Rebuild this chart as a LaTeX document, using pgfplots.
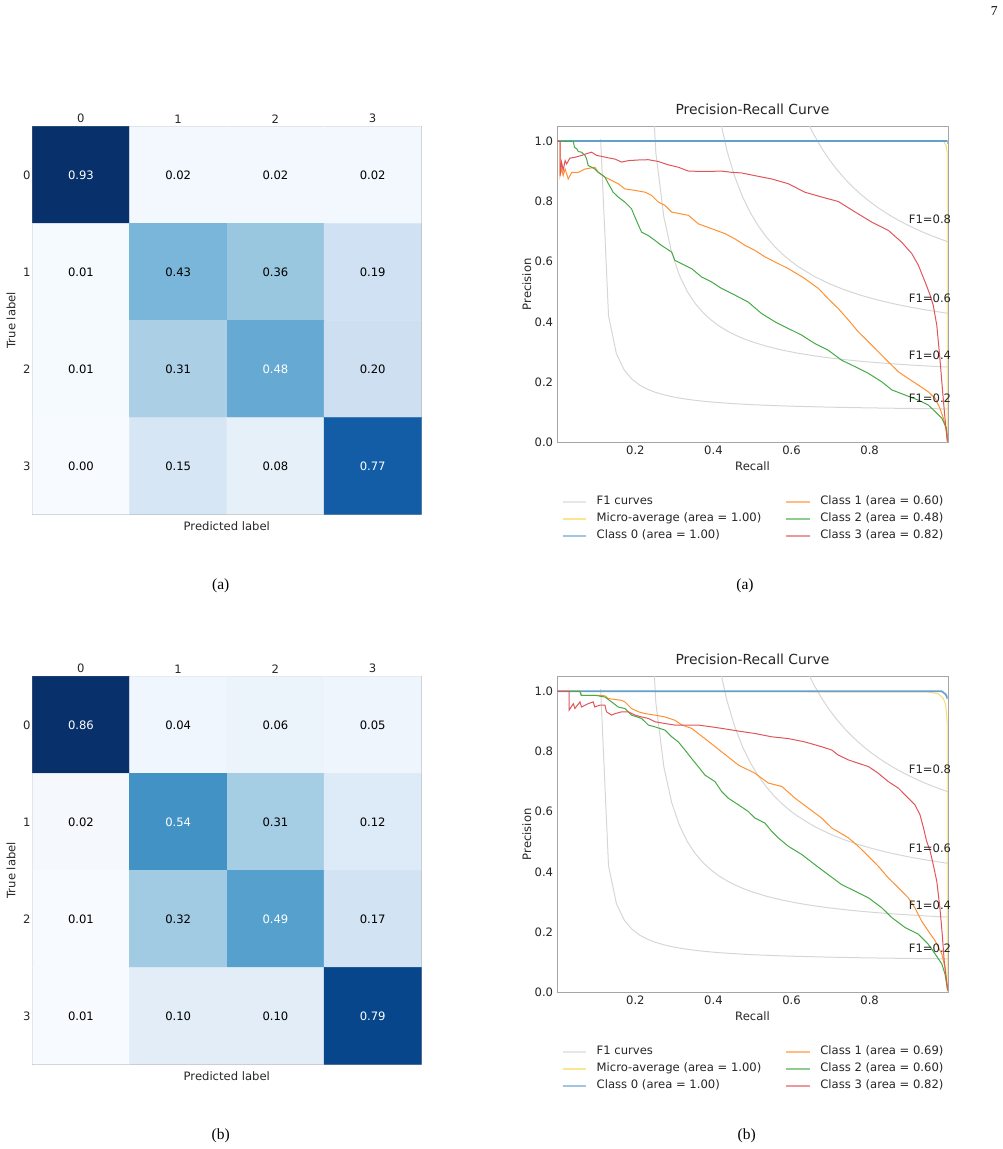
\documentclass[border=0pt]{standalone}
\usepackage{fontspec}
\setmainfont{DejaVu Sans}
\newfontfamily\capfont{Liberation Serif}
\usepackage{pgfplots}
\usepackage{pgfplotstable}
\pgfplotsset{compat=1.18}
\pgfplotsset{/pgf/number format/assume math mode=true}

\definecolor{f1gray}{RGB}{214,214,214}
\definecolor{cyellow}{RGB}{248,212,70}
\definecolor{cblue}{RGB}{100,160,205}
\definecolor{corange}{RGB}{255,145,50}
\definecolor{cgreen}{RGB}{70,170,70}
\definecolor{cred}{RGB}{225,85,90}
\definecolor{txt}{RGB}{38,38,38}

\newcommand\fsz{\fontsize{11.6}{14}\selectfont}
\newcommand\tsz{\fontsize{13.9}{16}\selectfont}

\tikzset{f1lbl/.style={anchor=base west, font=\fsz, text=txt, inner sep=0pt}}

\pgfplotsset{
  cmstyle/.style={
    scale only axis, width=389pt, height=388pt,
    xmin=-0.5, xmax=3.5, ymin=-0.5, ymax=3.5, enlargelimits=false,
    xtick={0,1,2,3}, ytick={0,1,2,3}, yticklabels={3,2,1,0},
    xticklabel pos=upper, major tick length=0pt,
    axis line style={black!35},
    tick label style={font=\fsz, text=txt},
    xticklabel style={inner ysep=3pt},
    yticklabel style={inner xsep=1.5pt},
    xlabel={Predicted label}, ylabel={True label},
    label style={font=\fsz, text=txt},
    xlabel style={at={(axis description cs:0.5,-0.0294)}, anchor=center},
    ylabel style={at={(axis description cs:-0.0548,0.5)}, anchor=center},
    colormap={blues}{rgb255=(247,251,255) rgb255=(222,235,247) rgb255=(198,219,239)
      rgb255=(158,202,225) rgb255=(107,174,214) rgb255=(66,146,198)
      rgb255=(33,113,181) rgb255=(8,81,156) rgb255=(8,48,107)},
  },
  % w = 100 gives white text on the dark cells, 0 gives black
  cmcells/.style={
    matrix plot*, mesh/cols=4, point meta=explicit, mark=none,
    nodes near coords={\pgfmathprintnumber[fixed,fixed zerofill,precision=2]{\pgfplotspointmeta}},
    nodes near coords align=center,
    visualization depends on={\thisrow{w}\as\wv},
    every node near coord/.append style={font=\fsz, text=white!\wv!black},
  },
  prstyle/.style={
    scale only axis, width=390.4pt, height=316pt,
    xmin=0, xmax=1, ymin=0, ymax=1.05, clip mode=individual,
    xtick={0.2,0.4,0.6,0.8}, ytick={0,0.2,0.4,0.6,0.8,1},
    xticklabel={\pgfmathprintnumber[fixed,fixed zerofill,precision=1]{\tick}},
    yticklabel={\pgfmathprintnumber[fixed,fixed zerofill,precision=1]{\tick}},
    major tick length=0pt,
    axis line style={black!35},
    tick label style={font=\fsz, text=txt},
    xticklabel style={inner ysep=3.4pt},
    yticklabel style={inner xsep=4pt},
    title={Precision-Recall Curve},
    title style={at={(axis description cs:0.5,1.0349)}, anchor=center, font=\tsz, text=txt},
    xlabel={Recall}, ylabel={Precision},
    label style={font=\fsz, text=txt},
    xlabel style={at={(axis description cs:0.5,-0.076)}, anchor=center},
    ylabel style={at={(axis description cs:-0.0784,0.5)}, anchor=center},
    legend image code/.code={\draw[#1, line width=1.7pt, draw opacity=0.6] (0pt,0pt) -- (23.3pt,0pt);},
    legend cell align=left,
    legend style={at={(axis description cs:0.0113,-0.162)}, anchor=north west,
      draw=none, fill=none, inner sep=0pt, outer sep=0pt, legend columns=2,
      font=\fsz, /tikz/every even column/.append style={column sep=14pt},
      nodes={inner xsep=10pt, inner ysep=2.5pt, text height=9pt, text depth=3pt, text=txt}},
    every axis plot/.append style={line width=1pt},
  },
}

% confusion matrices: column c, row position r (3 = top row), value v, text colour flag w
\pgfplotstableread{
c r v w
0 3 0.93 100
1 3 0.02 0
2 3 0.02 0
3 3 0.02 0
0 2 0.01 0
1 2 0.43 0
2 2 0.36 0
3 2 0.19 0
0 1 0.01 0
1 1 0.31 0
2 1 0.48 100
3 1 0.20 0
0 0 0.00 0
1 0 0.15 0
2 0 0.08 0
3 0 0.77 100
}\cmA

\pgfplotstableread{
c r v w
0 3 0.86 100
1 3 0.04 0
2 3 0.06 0
3 3 0.05 0
0 2 0.02 0
1 2 0.54 100
2 2 0.31 0
3 2 0.12 0
0 1 0.01 0
1 1 0.32 0
2 1 0.49 100
3 1 0.17 0
0 0 0.01 0
1 0 0.10 0
2 0 0.10 0
3 0 0.79 100
}\cmB

% iso-F1 lines
\pgfplotstableread{
x y
0.1110 1.0074
0.1312 0.4203
0.1514 0.2944
0.1716 0.2396
0.1918 0.2089
0.2120 0.1893
0.2322 0.1756
0.2524 0.1656
0.2727 0.1579
0.2929 0.1519
0.3131 0.1469
0.3333 0.1429
0.3535 0.1395
0.3737 0.1365
0.3939 0.1340
0.4141 0.1318
0.4545 0.1282
0.4949 0.1253
0.5353 0.1230
0.5757 0.1210
0.6161 0.1194
0.6969 0.1168
0.7778 0.1148
0.8586 0.1132
0.9394 0.1119
1.0000 0.1111
}\fonea

\pgfplotstableread{
x y
0.2322 1.4405
0.2524 0.9626
0.2727 0.7506
0.2929 0.6308
0.3131 0.5538
0.3333 0.5002
0.3535 0.4606
0.3737 0.4303
0.3939 0.4063
0.4141 0.3868
0.4343 0.3707
0.4545 0.3572
0.4747 0.3456
0.4949 0.3356
0.5353 0.3193
0.5757 0.3065
0.6161 0.2961
0.6565 0.2876
0.6969 0.2805
0.7373 0.2744
0.7778 0.2692
0.8182 0.2647
0.8586 0.2607
0.8990 0.2572
0.9394 0.2541
1.0000 0.2500
}\foneb

\pgfplotstableread{
x y
0.3737 1.5216
0.3939 1.2587
0.4141 1.0889
0.4343 0.9702
0.4545 0.8826
0.4747 0.8152
0.4949 0.7618
0.5151 0.7184
0.5353 0.6825
0.5555 0.6522
0.5757 0.6264
0.5959 0.6041
0.6161 0.5847
0.6565 0.5524
0.6969 0.5267
0.7373 0.5058
0.7778 0.4884
0.8182 0.4737
0.8586 0.4611
0.8990 0.4503
0.9394 0.4408
1.0000 0.4286
}\fonec

\pgfplotstableread{
x y
0.6161 1.1403
0.6363 1.0770
0.6565 1.0237
0.6767 0.9782
0.6969 0.9388
0.7171 0.9045
0.7373 0.8743
0.7576 0.8475
0.7778 0.8236
0.7980 0.8020
0.8182 0.7826
0.8384 0.7650
0.8586 0.7489
0.8788 0.7342
0.8990 0.7207
0.9192 0.7082
0.9394 0.6966
0.9596 0.6859
0.9798 0.6760
1.0000 0.6667
}\foned

\begin{document}
\begin{tikzpicture}
\path[use as bounding box] (0pt,0pt) rectangle (1003pt,1149pt);

% ---------- (a) confusion matrix ----------
\begin{axis}[cmstyle, at={(32.3pt,634.7pt)}, anchor=south west]
\addplot[cmcells] table[x=c, y=r, meta=v] {\cmA};
\end{axis}

% ---------- (a) precision-recall ----------
\begin{axis}[prstyle, at={(557.3pt,706.7pt)}, anchor=south west]
\addlegendimage{draw=f1gray}\addlegendentry{F1 curves}
\addlegendimage{draw=corange}\addlegendentry{Class 1 (area = 0.60)}
\addlegendimage{draw=cyellow}\addlegendentry{Micro-average (area = 1.00)}
\addlegendimage{draw=cgreen}\addlegendentry{Class 2 (area = 0.48)}
\addlegendimage{draw=cblue}\addlegendentry{Class 0 (area = 1.00)}
\addlegendimage{draw=cred}\addlegendentry{Class 3 (area = 0.82)}
\addplot[f1gray, forget plot] table {\fonea};
\addplot[f1gray, forget plot] table {\foneb};
\addplot[f1gray, forget plot] table {\fonec};
\addplot[f1gray, forget plot] table {\foned};
\addplot[cyellow, forget plot, draw opacity=0.8] coordinates {(0,1) (0.990,1) (0.996,0.985) (0.9992,0.96) (0.9992,0.9) (0.9992,0)};
\addplot[cblue, forget plot, line width=1.7pt] coordinates {(0,1) (1,1) (1,0.99)};
\addplot[corange, forget plot] coordinates {(0,1) (0.007,1) (0.007,0.886) (0.011,0.908) (0.015,0.886) (0.020,0.908) (0.028,0.875) (0.037,0.897) (0.054,0.897) (0.071,0.908) (0.096,0.914) (0.105,0.897) (0.122,0.881) (0.139,0.870) (0.156,0.859) (0.173,0.842) (0.199,0.837) (0.225,0.831) (0.242,0.820) (0.259,0.798) (0.276,0.787) (0.293,0.765) (0.336,0.754) (0.361,0.726) (0.395,0.710) (0.430,0.693) (0.455,0.676) (0.481,0.654) (0.506,0.638) (0.532,0.616) (0.558,0.599) (0.592,0.577) (0.634,0.544) (0.669,0.511) (0.694,0.477) (0.720,0.444) (0.746,0.406) (0.771,0.367) (0.797,0.334) (0.822,0.301) (0.848,0.267) (0.874,0.234) (0.899,0.212) (0.925,0.190) (0.950,0.168) (0.968,0.146) (0.980,0.113) (0.989,0.080) (0.997,0.035) (1.000,0.002)};
\addplot[cgreen, forget plot] coordinates {(0,1) (0.041,1) (0.044,0.980) (0.050,0.975) (0.054,0.966) (0.062,0.964) (0.071,0.953) (0.075,0.942) (0.079,0.920) (0.088,0.914) (0.096,0.908) (0.105,0.897) (0.114,0.889) (0.122,0.881) (0.131,0.859) (0.143,0.831) (0.156,0.815) (0.173,0.798) (0.190,0.776) (0.199,0.748) (0.208,0.721) (0.216,0.698) (0.233,0.687) (0.250,0.671) (0.267,0.654) (0.293,0.632) (0.301,0.605) (0.319,0.593) (0.344,0.577) (0.370,0.549) (0.395,0.533) (0.421,0.511) (0.455,0.489) (0.489,0.466) (0.523,0.428) (0.558,0.400) (0.592,0.378) (0.626,0.356) (0.660,0.328) (0.694,0.306) (0.728,0.273) (0.763,0.251) (0.797,0.229) (0.831,0.201) (0.857,0.174) (0.891,0.157) (0.925,0.140) (0.950,0.124) (0.968,0.102) (0.985,0.080) (0.997,0.046) (1.000,0.002)};
\addplot[cred, forget plot] coordinates {(0,1) (0.007,1) (0.007,0.886) (0.011,0.931) (0.015,0.903) (0.020,0.936) (0.024,0.925) (0.032,0.944) (0.045,0.947) (0.062,0.953) (0.075,0.959) (0.088,0.964) (0.101,0.953) (0.114,0.950) (0.131,0.945) (0.148,0.941) (0.165,0.931) (0.182,0.936) (0.208,0.938) (0.233,0.939) (0.259,0.933) (0.284,0.922) (0.310,0.914) (0.336,0.901) (0.378,0.900) (0.421,0.901) (0.447,0.897) (0.472,0.895) (0.506,0.886) (0.549,0.875) (0.592,0.859) (0.634,0.831) (0.677,0.815) (0.720,0.800) (0.763,0.765) (0.805,0.732) (0.848,0.704) (0.882,0.665) (0.908,0.627) (0.925,0.588) (0.942,0.533) (0.955,0.489) (0.963,0.455) (0.972,0.389) (0.980,0.279) (0.987,0.168) (0.993,0.080) (0.999,0.002)};
\node[f1lbl] at (axis cs:0.9,0.1322) {F1=0.2};
\node[f1lbl] at (axis cs:0.9,0.2756) {F1=0.4};
\node[f1lbl] at (axis cs:0.9,0.4654) {F1=0.6};
\node[f1lbl] at (axis cs:0.9,0.7282) {F1=0.8};
\end{axis}

% ---------- (b) confusion matrix ----------
\begin{axis}[cmstyle, at={(32.3pt,84.7pt)}, anchor=south west]
\addplot[cmcells] table[x=c, y=r, meta=v] {\cmB};
\end{axis}

% ---------- (b) precision-recall ----------
\begin{axis}[prstyle, at={(557.3pt,156.7pt)}, anchor=south west]
\addlegendimage{draw=f1gray}\addlegendentry{F1 curves}
\addlegendimage{draw=corange}\addlegendentry{Class 1 (area = 0.69)}
\addlegendimage{draw=cyellow}\addlegendentry{Micro-average (area = 1.00)}
\addlegendimage{draw=cgreen}\addlegendentry{Class 2 (area = 0.60)}
\addlegendimage{draw=cblue}\addlegendentry{Class 0 (area = 1.00)}
\addlegendimage{draw=cred}\addlegendentry{Class 3 (area = 0.82)}
\addplot[f1gray, forget plot] table {\fonea};
\addplot[f1gray, forget plot] table {\foneb};
\addplot[f1gray, forget plot] table {\fonec};
\addplot[f1gray, forget plot] table {\foned};
\addplot[cyellow, forget plot, draw opacity=0.8] coordinates {(0,1) (0.950,0.998) (0.976,0.992) (0.989,0.976) (0.995,0.954) (0.9992,0.888) (0.9992,0)};
\addplot[cblue, forget plot, line width=1.7pt] coordinates {(0,1) (0.985,1) (0.995,0.99) (1,0.975)};
\addplot[corange, forget plot] coordinates {(0,1) (0.058,1) (0.062,0.987) (0.105,0.987) (0.122,0.985) (0.131,0.976) (0.165,0.970) (0.173,0.965) (0.190,0.943) (0.208,0.932) (0.225,0.926) (0.250,0.921) (0.276,0.915) (0.301,0.904) (0.319,0.888) (0.344,0.877) (0.378,0.843) (0.421,0.799) (0.464,0.755) (0.506,0.728) (0.541,0.695) (0.575,0.684) (0.609,0.645) (0.643,0.612) (0.677,0.579) (0.703,0.546) (0.746,0.513) (0.771,0.485) (0.797,0.452) (0.822,0.419) (0.848,0.380) (0.874,0.347) (0.899,0.314) (0.916,0.281) (0.933,0.237) (0.950,0.204) (0.968,0.171) (0.985,0.127) (0.993,0.083) (0.997,0.039) (1.000,0.006)};
\addplot[cgreen, forget plot] coordinates {(0,1) (0.058,1) (0.061,0.987) (0.096,0.987) (0.105,0.985) (0.122,0.981) (0.139,0.965) (0.156,0.948) (0.173,0.943) (0.190,0.921) (0.216,0.910) (0.233,0.888) (0.250,0.882) (0.276,0.871) (0.293,0.849) (0.310,0.832) (0.327,0.805) (0.344,0.777) (0.361,0.750) (0.378,0.722) (0.404,0.700) (0.421,0.667) (0.438,0.645) (0.464,0.623) (0.489,0.601) (0.506,0.579) (0.532,0.562) (0.549,0.535) (0.566,0.513) (0.592,0.485) (0.626,0.458) (0.660,0.424) (0.694,0.391) (0.728,0.358) (0.763,0.336) (0.797,0.314) (0.831,0.281) (0.857,0.248) (0.891,0.215) (0.925,0.193) (0.950,0.160) (0.968,0.127) (0.985,0.094) (0.993,0.061) (1.000,0.006)};
\addplot[cred, forget plot] coordinates {(0,1) (0.030,1) (0.030,0.937) (0.041,0.959) (0.045,0.943) (0.058,0.965) (0.062,0.948) (0.079,0.959) (0.092,0.965) (0.096,0.948) (0.109,0.954) (0.122,0.954) (0.126,0.932) (0.139,0.921) (0.148,0.926) (0.165,0.932) (0.182,0.932) (0.199,0.921) (0.216,0.915) (0.233,0.910) (0.250,0.899) (0.276,0.893) (0.301,0.888) (0.336,0.888) (0.361,0.888) (0.395,0.882) (0.421,0.877) (0.464,0.868) (0.506,0.860) (0.549,0.849) (0.592,0.843) (0.634,0.832) (0.677,0.816) (0.703,0.805) (0.720,0.788) (0.746,0.772) (0.771,0.761) (0.797,0.750) (0.822,0.728) (0.848,0.700) (0.874,0.678) (0.899,0.645) (0.916,0.623) (0.929,0.590) (0.938,0.546) (0.946,0.502) (0.955,0.469) (0.963,0.424) (0.972,0.369) (0.980,0.281) (0.986,0.193) (0.991,0.105) (0.997,0.039) (1.000,0.006)};
\node[f1lbl] at (axis cs:0.9,0.1322) {F1=0.2};
\node[f1lbl] at (axis cs:0.9,0.2756) {F1=0.4};
\node[f1lbl] at (axis cs:0.9,0.4654) {F1=0.6};
\node[f1lbl] at (axis cs:0.9,0.7282) {F1=0.8};
\end{axis}

% sub-figure captions and page number
\node[font=\capfont\fontsize{15.5}{18}\selectfont] at (220.7pt,563.3pt) {(a)};
\node[font=\capfont\fontsize{15.5}{18}\selectfont] at (745pt,563.3pt) {(a)};
\node[font=\capfont\fontsize{15.5}{18}\selectfont] at (220.7pt,13pt) {(b)};
\node[font=\capfont\fontsize{15.5}{18}\selectfont] at (746.7pt,13pt) {(b)};
\node[font=\capfont\fontsize{13.5}{16}\selectfont] at (994.3pt,1138pt) {7};
\end{tikzpicture}
\end{document}
